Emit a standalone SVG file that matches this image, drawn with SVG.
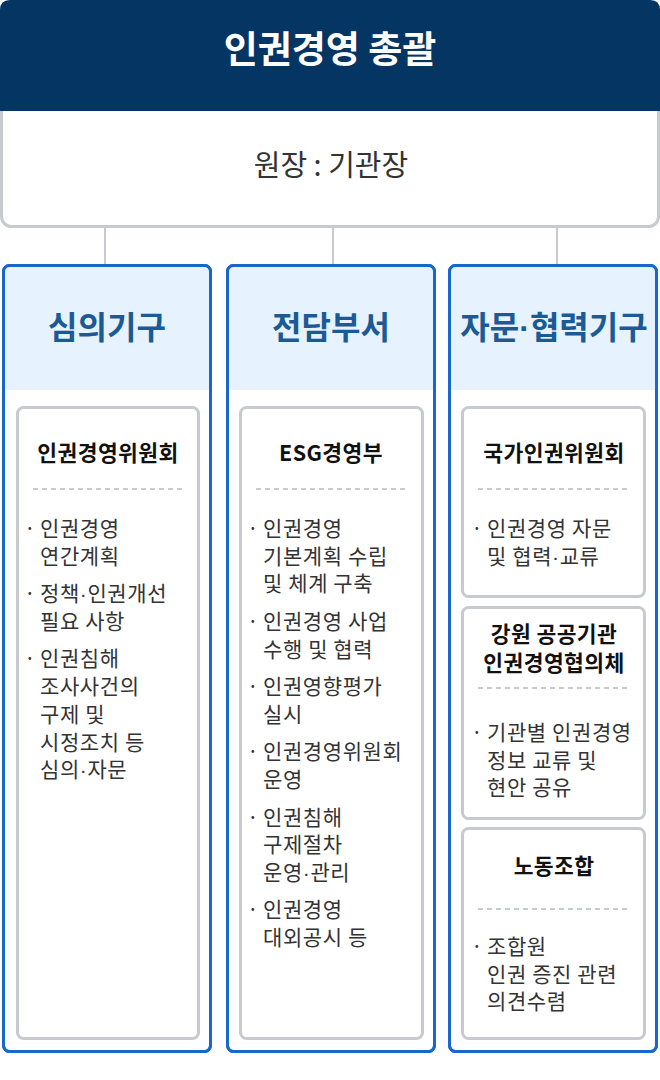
<svg xmlns="http://www.w3.org/2000/svg" width="660" height="1080" viewBox="0 0 660 1080">
<style>
text{font-family:"Noto Sans CJK KR","Noto Sans",sans-serif}
.d{font-family:"Liberation Sans","Noto Sans",sans-serif}
.title{font-size:37px;font-weight:700;fill:#fff;text-anchor:middle}
.sub{font-size:29px;fill:#333;text-anchor:middle}
.colbox{fill:#fff;stroke:#1767cc;stroke-width:3}
.colhead{fill:#e6f2fd}
.coltitle{font-size:32px;font-weight:700;fill:#1b5a96;text-anchor:middle}
.card{fill:#fff;stroke:#c7cbcf;stroke-width:3}
.head{font-size:21.5px;font-weight:700;fill:#111;text-anchor:middle;letter-spacing:0.4px}
.dash{stroke:#c7cbcf;stroke-width:2;stroke-dasharray:5 4}
.it{font-size:21px;fill:#333;letter-spacing:0.6px}
.bl{font-size:21px;fill:#333;text-anchor:middle}
.conn{stroke:#c7cbcf;stroke-width:2}
</style>
<defs>
<clipPath id="c1"><rect x="3.5" y="265.5" width="207" height="786" rx="6"/></clipPath>
<clipPath id="c2"><rect x="227.5" y="265.5" width="207" height="786" rx="6"/></clipPath>
<clipPath id="c3"><rect x="449.5" y="265.5" width="207" height="786" rx="6"/></clipPath>
</defs>

<g id="top">
<rect x="1.5" y="1.5" width="657" height="225" rx="10" fill="#fff" stroke="#c7cbcf" stroke-width="3"/>
<path d="M0 111 V10 Q0 0 10 0 H650 Q660 0 660 10 V111 Z" fill="#053562"/>
<text class="title" x="330" y="63">인권경영 총괄</text>
<text class="sub" x="331" y="176">원장 : 기관장</text>
</g>

<g id="connectors">
<line class="conn" x1="105" y1="228" x2="105" y2="264"/>
<line class="conn" x1="333" y1="228" x2="333" y2="264"/>
<line class="conn" x1="557" y1="228" x2="557" y2="264"/>
</g>

<g id="col1">
<rect class="colbox" x="3.5" y="265.5" width="207" height="786" rx="6"/>
<rect class="colhead" x="0" y="260" width="220" height="130" clip-path="url(#c1)"/>
<rect x="3.5" y="265.5" width="207" height="786" rx="6" fill="none" stroke="#1767cc" stroke-width="3"/>
<text class="coltitle" x="107" y="338.5">심의기구</text>
<g id="card1">
<rect class="card" x="17.5" y="407.5" width="181" height="631" rx="6"/>
<text class="head" x="108" y="461">인권경영위원회</text>
<line class="dash" x1="33" y1="489" x2="182" y2="489"/>
<text class="bl" x="30" y="536">·</text>
<text class="it" x="40" y="536">인권경영</text>
<text class="it" x="40" y="563.7">연간계획</text>
<text class="bl" x="30" y="601.2">·</text>
<text class="it" x="40" y="601.2">정책<tspan class="d">·</tspan>인권개선</text>
<text class="it" x="40" y="628.9">필요 사항</text>
<text class="bl" x="30" y="666.4">·</text>
<text class="it" x="40" y="666.4">인권침해</text>
<text class="it" x="40" y="694.1">조사사건의</text>
<text class="it" x="40" y="721.8">구제 및</text>
<text class="it" x="40" y="749.5">시정조치 등</text>
<text class="it" x="40" y="777.2">심의<tspan class="d">·</tspan>자문</text>
</g>
</g>

<g id="col2">
<rect class="colbox" x="227.5" y="265.5" width="207" height="786" rx="6"/>
<rect class="colhead" x="220" y="260" width="220" height="130" clip-path="url(#c2)"/>
<rect x="227.5" y="265.5" width="207" height="786" rx="6" fill="none" stroke="#1767cc" stroke-width="3"/>
<text class="coltitle" x="331" y="338.5">전담부서</text>
<g id="card2">
<rect class="card" x="240.5" y="407.5" width="182" height="631" rx="6"/>
<text class="head" x="331" y="461">ESG경영부</text>
<line class="dash" x1="256" y1="489" x2="406" y2="489"/>
<text class="bl" x="253" y="536">·</text>
<text class="it" x="263" y="536">인권경영</text>
<text class="it" x="263" y="563.7">기본계획 수립</text>
<text class="it" x="263" y="591.4">및 체계 구축</text>
<text class="bl" x="253" y="628.9">·</text>
<text class="it" x="263" y="628.9">인권경영 사업</text>
<text class="it" x="263" y="656.6">수행 및 협력</text>
<text class="bl" x="253" y="694.1">·</text>
<text class="it" x="263" y="694.1">인권영향평가</text>
<text class="it" x="263" y="721.8">실시</text>
<text class="bl" x="253" y="759.3">·</text>
<text class="it" x="263" y="759.3">인권경영위원회</text>
<text class="it" x="263" y="787">운영</text>
<text class="bl" x="253" y="824.5">·</text>
<text class="it" x="263" y="824.5">인권침해</text>
<text class="it" x="263" y="852.2">구제절차</text>
<text class="it" x="263" y="879.9">운영<tspan class="d">·</tspan>관리</text>
<text class="bl" x="253" y="917.4">·</text>
<text class="it" x="263" y="917.4">인권경영</text>
<text class="it" x="263" y="945.1">대외공시 등</text>
</g>
</g>

<g id="col3">
<rect class="colbox" x="449.5" y="265.5" width="207" height="786" rx="6"/>
<rect class="colhead" x="440" y="260" width="220" height="130" clip-path="url(#c3)"/>
<rect x="449.5" y="265.5" width="207" height="786" rx="6" fill="none" stroke="#1767cc" stroke-width="3"/>
<text class="coltitle" x="554" y="338.5">자문<tspan class="d">·</tspan>협력기구</text>
<g id="card3a">
<rect class="card" x="462.5" y="407.5" width="182" height="189" rx="6"/>
<text class="head" x="554" y="461">국가인권위원회</text>
<line class="dash" x1="478" y1="489" x2="629" y2="489"/>
<text class="bl" x="477" y="536">·</text>
<text class="it" x="487" y="536">인권경영 자문</text>
<text class="it" x="487" y="563.7">및 협력<tspan class="d">·</tspan>교류</text>
</g>
<g id="card3b">
<rect class="card" x="462.5" y="607.5" width="182" height="211" rx="6"/>
<text class="head" x="554" y="642">강원 공공기관</text>
<text class="head" x="554" y="670.5">인권경영협의체</text>
<line class="dash" x1="478" y1="688" x2="629" y2="688"/>
<text class="bl" x="477" y="740">·</text>
<text class="it" x="487" y="740">기관별 인권경영</text>
<text class="it" x="487" y="767.7">정보 교류 및</text>
<text class="it" x="487" y="795.4">현안 공유</text>
</g>
<g id="card3c">
<rect class="card" x="462.5" y="828.5" width="182" height="210" rx="6"/>
<text class="head" x="554" y="874">노동조합</text>
<line class="dash" x1="478" y1="909" x2="629" y2="909"/>
<text class="bl" x="477" y="954">·</text>
<text class="it" x="487" y="954">조합원</text>
<text class="it" x="487" y="981.7">인권 증진 관련</text>
<text class="it" x="487" y="1009.4">의견수렴</text>
</g>
</g>
</svg>
